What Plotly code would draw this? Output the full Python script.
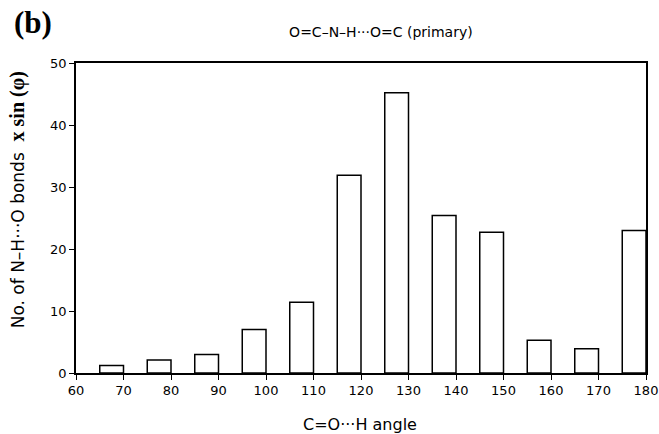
import plotly.graph_objects as go

bin_upper = [70, 80, 90, 100, 110, 120, 130, 140, 150, 160, 170, 180]
counts = [1.2, 2.1, 3.0, 7.0, 11.4, 31.9, 45.2, 25.4, 22.7, 5.3, 3.9, 23.0]

font_main = "DejaVu Sans"

fig = go.Figure()
fig.add_trace(go.Bar(
    x=bin_upper, y=counts, width=5, offset=-5,
    marker=dict(color="white", line=dict(color="black", width=1.5)),
))

fig.update_layout(
    width=659, height=434,
    margin=dict(l=76, r=13, t=63, b=61),
    paper_bgcolor="white", plot_bgcolor="white",
    showlegend=False,
    font=dict(family=font_main, size=13, color="black"),
    title=dict(text="O=C–N–H···O=C (primary)", x=0.578, xanchor="center",
               y=0.926, yanchor="middle", font=dict(size=14, family=font_main)),
    annotations=[
        dict(text="<b>(b)</b>", xref="paper", yref="paper",
             x=-0.112, y=1.132, xanchor="left", yanchor="middle",
             showarrow=False, font=dict(family="Liberation Serif", size=31)),
        dict(text="No. of N–H···O bonds  <span style='font-family:Liberation Serif;font-weight:bold;font-size:20px'>x sin (φ)</span>",
             xref="paper", yref="paper", x=-0.102, y=0.56, textangle=-90,
             xanchor="center", yanchor="middle", showarrow=False,
             font=dict(size=17, family=font_main)),
        dict(text="C=O···H angle", xref="paper", yref="paper", x=0.498, y=-0.165,
             xanchor="center", yanchor="middle", showarrow=False,
             font=dict(size=16, family=font_main)),
    ],
)
fig.update_xaxes(range=[60, 180], dtick=10, tick0=60, showline=True, mirror=True,
                 linecolor="black", linewidth=1.5, ticks="outside", ticklen=5,
                 tickcolor="black", showgrid=False, zeroline=False, automargin=False,
                 tickfont=dict(size=13))
fig.update_yaxes(range=[0, 50], dtick=10, showline=True, mirror=True,
                 linecolor="black", linewidth=1.5, ticks="outside", ticklen=5,
                 tickcolor="black", showgrid=False, zeroline=False, automargin=False,
                 tickfont=dict(size=13))

fig.write_html("out.html", config={"displayModeBar": False},
               post_script="document.body.style.margin='0';document.body.style.overflow='hidden';")
